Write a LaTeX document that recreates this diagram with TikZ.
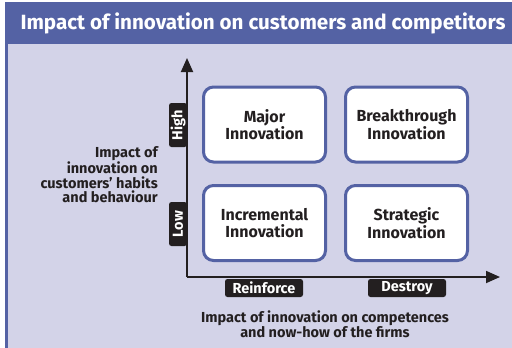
\documentclass[tikz,border=0pt]{standalone}
\usepackage{fontspec}
\setmainfont{Fira Sans}
\usetikzlibrary{arrows.meta, positioning}
\definecolor{hdblue}{RGB}{84,98,164}
\definecolor{panel}{RGB}{211,211,232}
\definecolor{ink}{RGB}{35,31,32}

\begin{document}
\begin{tikzpicture}[x=1pt, y=-1pt,
	quad/.style = {rectangle, rounded corners=10pt, draw=hdblue, line width=3pt,
		fill=white, text=ink, align=center, inner sep=0pt,
		minimum width=122pt, minimum height=75pt,
		font=\bfseries\fontsize{16}{16.5}\selectfont},
	tag/.style = {% black level tag
		rectangle, rounded corners=2.5pt, fill=ink, text=white, inner sep=0pt,
		minimum height=18pt, font=\bfseries\fontsize{14.5}{15}\selectfont},
	axis/.style = {line width=1.8pt, draw=ink, -{Triangle[length=14pt, width=12pt]}},
	lbl/.style = {text=ink, inner sep=0pt, font=\bfseries\fontsize{14.5}{14.5}\selectfont}]

\useasboundingbox (0,0) rectangle (512,348);
% frame and title band
\fill[panel] (8,44) rectangle (512,348);
\fill[hdblue] (5,2) rectangle (512,44);
\fill[hdblue] (5,44) rectangle (8,348);
\node[text=white, font=\bfseries\fontsize{20.6}{24}\selectfont] (title) at (263,23)
	{Impact of innovation on customers and competitors};

% axes
\coordinate (O) at (187,277);
\coordinate (ytip) at (187,58);
\coordinate (xtip) at (500,277);
\draw[axis] (O) -- (ytip);
\draw[axis] (O) -- (xtip);

% the four quadrants
\node[quad] (major)   at (264.5,124.5) {Major\\Innovation};
\node[quad] (break)   at (406.5,124.5) {Breakthrough\\Innovation};
\node[quad] (incr)    at (264.5,223)   {Incremental\\Innovation};
\node[quad] (strat)   at (406.5,223)   {Strategic\\Innovation};

% level tags
\node[tag, rotate=90, minimum width=44pt] (high) at (178,125) {High};
\node[tag, rotate=90, minimum width=44pt] (low)  at (178,224) {Low};
\node[tag, minimum width=78pt] (reinf) at (264,288) {Reinforce};
\node[tag, minimum width=78pt] (destr) at (407,288) {Destroy};

% axis titles
\node[lbl, align=right, anchor=east] (ylab) at (158,175)
	{Impact of\\innovation on\\customers' habits\\and behaviour};
\node[lbl, align=center] (xlab) at (325,324)
	{Impact of innovation on competences\\and now-how of the firms};
\end{tikzpicture}
\end{document}
